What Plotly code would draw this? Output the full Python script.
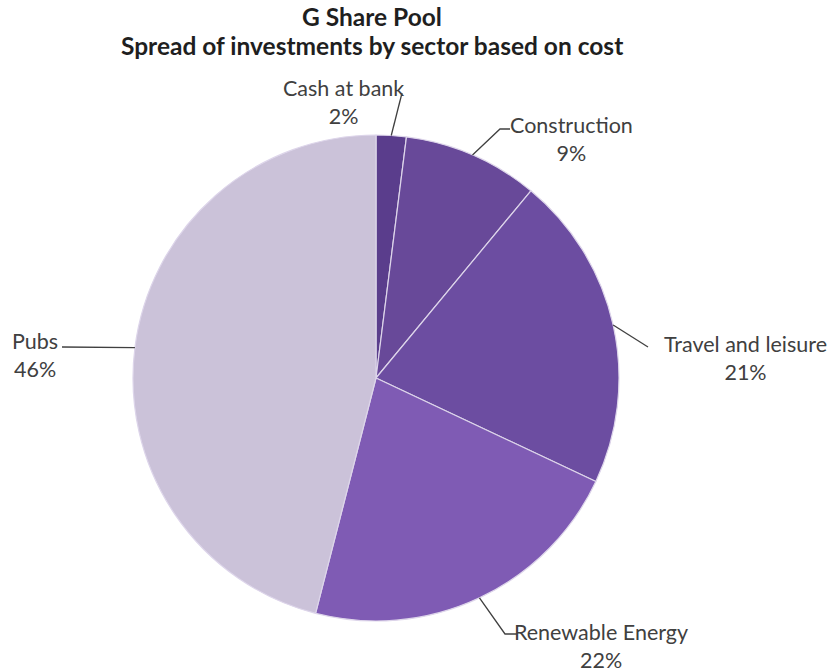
import math
import plotly.graph_objects as go

# ---- data ----
sectors = ["Cash at bank", "Construction", "Travel and leisure", "Renewable Energy", "Pubs"]
shares = [2, 9, 21, 22, 46]
percent_labels = ["2%", "9%", "21%", "22%", "46%"]

title_line1 = "G Share Pool"
title_line2 = "Spread of investments by sector based on cost"

# ---- style / layout ----
W, H = 832, 672
colors = ["#5a3d8c", "#684999", "#6c4da1", "#7f5bb4", "#cbc2d9"]
CX, CY, R = 376, 378, 243  # pixel centre and radius of the pie

# label block centres (px) and leader-line knee / end points (px)
label_pos = [(343, 102), (571, 139), (745, 358), (601, 646), (35, 355)]
knees = [(402, 93), (500, 129), (648, 347), (505, 634), (62, 347)]
ends = [(402, 93), (510, 129), (648, 347), (517, 634), (62, 347)]


def px(x):
    return x / W


def py(y):
    return 1 - y / H


fig = go.Figure(
    go.Pie(
        labels=sectors,
        values=shares,
        sort=False,
        direction="clockwise",
        rotation=0,
        marker=dict(colors=colors, line=dict(color="#ddd5ea", width=1.2)),
        textinfo="none",
        hoverinfo="label+percent",
        showlegend=False,
        domain=dict(x=[px(CX - R), px(CX + R)], y=[py(CY + R), py(CY - R)]),
    )
)

# leader lines derived from slice mid-angles
total = sum(shares)
cum = 0
shapes = []
annotations = []
label_font = dict(family="Lato, Open Sans, sans-serif", size=21.5, color="#404040")
for i, v in enumerate(shares):
    mid = (cum + v / 2) / total * 2 * math.pi
    cum += v
    ex = CX + R * math.sin(mid)
    ey = CY - R * math.cos(mid)
    kx, ky = knees[i]
    nx, ny = ends[i]
    path = f"M {px(ex)} {py(ey)} L {px(kx)} {py(ky)} L {px(nx)} {py(ny)}"
    shapes.append(dict(type="path", xref="paper", yref="paper", path=path,
                       line=dict(color="#404040", width=1.3)))
    lx, ly = label_pos[i]
    annotations.append(dict(
        x=px(lx), y=py(ly), xref="paper", yref="paper", showarrow=False,
        text=f"{sectors[i]}<br>{percent_labels[i]}", align="center",
        xanchor="center", yanchor="middle", font=label_font,
    ))

title_font = dict(family="Lato, Open Sans, sans-serif", size=24.5, color="#1f1f1f")
for txt, ty in ((title_line1, 16), (title_line2, 46)):
    annotations.append(dict(
        x=px(372), y=py(ty), xref="paper", yref="paper", showarrow=False,
        text=f"<b>{txt}</b>", xanchor="center", yanchor="middle", font=title_font,
    ))

fig.update_layout(
    width=W, height=H, autosize=False,
    margin=dict(l=0, r=0, t=0, b=0),
    paper_bgcolor="white", plot_bgcolor="white",
    shapes=shapes, annotations=annotations,
)

fig.write_html(
    "out.html",
    config={"displayModeBar": False},
    post_script="document.body.style.margin='0';document.body.style.overflow='hidden';",
)
